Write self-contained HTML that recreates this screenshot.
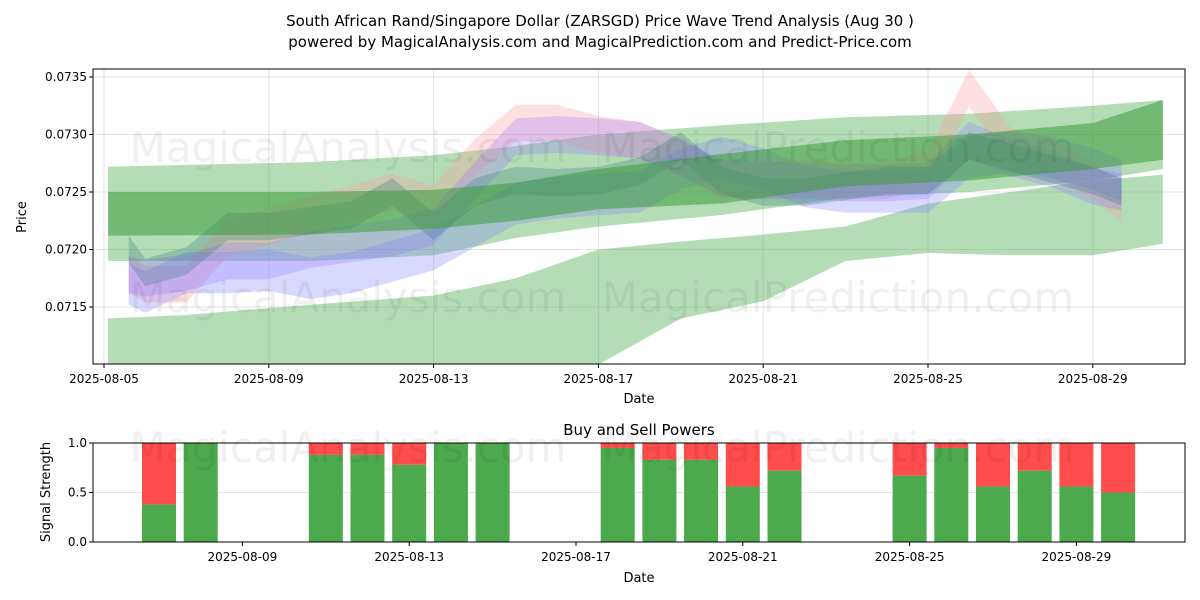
<!DOCTYPE html>
<html><head><meta charset="utf-8"><style>
body{margin:0;background:#fff;}
svg{display:block;font-family:"DejaVu Sans","Liberation Sans",sans-serif;}
</style></head><body>
<svg id="c" width="1200" height="600" viewBox="0 0 1200 600">
<text x="600" y="26" font-size="15" text-anchor="middle">South African Rand/Singapore Dollar (ZARSGD) Price Wave Trend Analysis (Aug 30 )</text>
<text x="600" y="47" font-size="15" text-anchor="middle">powered by MagicalAnalysis.com and MagicalPrediction.com and Predict-Price.com</text>
<g id="topg"></g>
<g id="botg"></g>
</svg>
<script>
// ---- data ----
const topTickLabels=["2025-08-05","2025-08-09","2025-08-13","2025-08-17","2025-08-21","2025-08-25","2025-08-29"];
const topTickDays=[0,4,8,12,16,20,24];
const priceTicks=[0.0715,0.0720,0.0725,0.0730,0.0735];
const bandDays=[0.1,5,8,10,12,15,18,21,24,25.7];
const band1Upper=[0.07272,0.07276,0.07282,0.0729,0.07300,0.07308,0.07315,0.07318,0.07325,0.0733];
const band1Lower=[0.0719,0.0719,0.07195,0.0721,0.0722,0.0723,0.07245,0.0725,0.0726,0.0727];
const band3Upper=[0.0725,0.0725,0.07252,0.07258,0.0727,0.07283,0.07295,0.073,0.0731,0.0733];
const band3Lower=[0.07212,0.07213,0.07218,0.07225,0.07235,0.0724,0.07255,0.0726,0.0727,0.07278];
const band2Days=[0.1,2,5,8,10,12,14,16,18,20,22,24,25.7];
const band2Upper=[0.0714,0.07143,0.07152,0.0716,0.07175,0.072,0.07207,0.07213,0.0722,0.0724,0.0725,0.0726,0.07265];
const band2Lower=[0.0700,0.0699,0.0698,0.0701,0.0705,0.0710,0.0714,0.07155,0.0719,0.07197,0.07195,0.07195,0.07205];
const waveDays=[0.6,1,2,3,4,5,6,7,8,9,10,11,12,13,14,15,16,17,18,19,20,21,22,23,24,24.7];
const waveUpper=[0.07178,0.07175,0.0718,0.0719,0.0719,0.072,0.07205,0.0721,0.0722,0.0726,0.07298,0.073,0.07298,0.07295,0.0728,0.07262,0.0726,0.0726,0.07258,0.07258,0.0726,0.07295,0.0728,0.0727,0.07255,0.0725];
const waveLower=[0.0717,0.07163,0.0718,0.0718,0.07182,0.07175,0.0718,0.0719,0.072,0.0722,0.0724,0.07245,0.07248,0.0725,0.0727,0.0728,0.0727,0.07255,0.0725,0.0725,0.0725,0.0728,0.07285,0.0728,0.0727,0.0726];
const waveMid=[0.072,0.0718,0.0719,0.0722,0.0722,0.07225,0.0723,0.0725,0.0722,0.0725,0.0726,0.07258,0.0726,0.07268,0.0729,0.0726,0.0725,0.0725,0.07255,0.0726,0.0726,0.0729,0.0728,0.0727,0.0726,0.0725];
const waveRed=[0.07178,0.0717,0.0717,0.0721,0.0722,0.0723,0.0724,0.0725,0.0724,0.0728,0.0731,0.0731,0.0730,0.07295,0.0728,0.0726,0.0726,0.07262,0.0726,0.0726,0.0727,0.0734,0.0729,0.0728,0.0726,0.0724];
const barDates=["2025-08-07","2025-08-08","2025-08-11","2025-08-12","2025-08-13","2025-08-14","2025-08-15","2025-08-18","2025-08-19","2025-08-20","2025-08-21","2025-08-22","2025-08-25","2025-08-26","2025-08-27","2025-08-28","2025-08-29","2025-08-30"];
const buyPower=[0.38,1.0,0.88,0.88,0.78,1.0,1.0,0.95,0.83,0.83,0.56,0.72,0.67,0.95,0.56,0.72,0.56,0.5];
const botTickLabels=["2025-08-09","2025-08-13","2025-08-17","2025-08-21","2025-08-25","2025-08-29"];
const botTickDays=[4,8,12,16,20,24];
const signalTicks=[0.0,0.5,1.0];
// ---- scales ----
const NS="http://www.w3.org/2000/svg";
const T={l:93,r:1185,t:69,b:364};
const xT=d=>104+d*41.2;
const yT=p=>77+(0.0735-p)/0.0005*57.5;
const B={l:93,r:1185,t:443,b:542};
const xB=d=>75.6+d*41.7;
const yB=v=>542-v*99;
function mk(parent,tag,attrs,txt){const e=document.createElementNS(NS,tag);for(const k in attrs)e.setAttribute(k,attrs[k]);if(txt!=null)e.textContent=txt;parent.appendChild(e);return e;}
const svgRoot=document.getElementById('c');
const topG=document.getElementById('topg'),botG=document.getElementById('botg');
const defs=mk(svgRoot,'defs',{});
const cp=mk(defs,'clipPath',{id:'cp'});mk(cp,'rect',{x:T.l,y:T.t,width:T.r-T.l,height:T.b-T.t});
// grid
topTickDays.forEach((d,i)=>{const g=mk(topG,'line',{x1:xT(d),x2:xT(d),y1:T.t,y2:T.b,stroke:'#e3e3e3','stroke-width':1});

});
priceTicks.forEach(p=>{const g=mk(topG,'line',{x1:T.l,x2:T.r,y1:yT(p),y2:yT(p),stroke:'#e3e3e3','stroke-width':1});

});
const plot=mk(topG,'g',{'clip-path':'url(#cp)'});
function band(days,up,lo,color,op,name){let pts=days.map((d,i)=>xT(d)+','+yT(up[i]));for(let i=days.length-1;i>=0;i--)pts.push(xT(days[i])+','+yT(lo[i]));const p=mk(plot,'polygon',{points:pts.join(' '),fill:color,'fill-opacity':op});

}
function wave(days,c,hw,color,op,name){band(days,c.map(v=>v+hw),c.map(v=>v-hw),color,op,name);}
band(band2Days,band2Upper,band2Lower,'#4caf50',0.42,'lower-trend-band');
band(bandDays,band1Upper,band1Lower,'#4caf50',0.42,'upper-trend-band');
wave(waveDays,waveRed,0.00016,'#ff9999',0.3,'red-wave-band');
wave(waveDays,waveUpper,0.00016,'#9b7bff',0.3,'purple-wave-band');
wave(waveDays,waveLower,0.00018,'#8080ff',0.3,'blue-wave-band');
wave(waveDays,waveMid,0.00012,'#3a7a7a',0.3,'teal-wave-band');
band(bandDays,band3Upper,band3Lower,'#3c9a3c',0.55,'core-trend-band');
// watermarks
[["MagicalAnalysis.com",348,162],["MagicalPrediction.com",838,162],["MagicalAnalysis.com",348,312],["MagicalPrediction.com",838,312],["MagicalAnalysis.com",348,462],["MagicalPrediction.com",838,462]].forEach(w=>{const t=mk(svgRoot,'text',{x:w[1],y:w[2],'font-size':42,fill:'#000','fill-opacity':0.06,'text-anchor':'middle'},w[0]);

});
// axes
mk(topG,'rect',{x:T.l,y:T.t,width:T.r-T.l,height:T.b-T.t,fill:'none',stroke:'#000','stroke-width':1});
topTickDays.forEach((d,i)=>{mk(topG,'line',{x1:xT(d),x2:xT(d),y1:T.b,y2:T.b+4,stroke:'#000'});const t=mk(topG,'text',{x:xT(d),y:T.b+19,'font-size':12,'text-anchor':'middle'},topTickLabels[i]);

});
priceTicks.forEach(p=>{mk(topG,'line',{x1:T.l-4,x2:T.l,y1:yT(p),y2:yT(p),stroke:'#000'});const t=mk(topG,'text',{x:T.l-6,y:yT(p)+4,'font-size':12,'text-anchor':'end'},p.toFixed(4));

});
mk(topG,'text',{x:639,y:403,'font-size':13,'text-anchor':'middle',},'Date');
mk(topG,'text',{x:26,y:217,'font-size':13,'text-anchor':'middle',transform:'rotate(-90 26 217)',},'Price');
// bottom
mk(botG,'text',{x:639,y:435,'font-size':15,'text-anchor':'middle',},'Buy and Sell Powers');
signalTicks.forEach(v=>{const g=mk(botG,'line',{x1:B.l,x2:B.r,y1:yB(v),y2:yB(v),stroke:'#e3e3e3'});

});
barDates.forEach((ds,i)=>{const d=(new Date(ds)-new Date("2025-08-05"))/864e5;const x=xB(d)-17;
const r=mk(botG,'rect',{x:x,y:yB(1),width:34,height:yB(buyPower[i])-yB(1),fill:'#ff4c4c'});


const g=mk(botG,'rect',{x:x,y:yB(buyPower[i]),width:34,height:yB(0)-yB(buyPower[i]),fill:'#4caa4c'});

});
mk(botG,'rect',{x:B.l,y:B.t,width:B.r-B.l,height:B.b-B.t,fill:'none',stroke:'#000'});
botTickDays.forEach((d,i)=>{mk(botG,'line',{x1:xB(d),x2:xB(d),y1:B.b,y2:B.b+4,stroke:'#000'});const t=mk(botG,'text',{x:xB(d),y:B.b+19,'font-size':12,'text-anchor':'middle'},botTickLabels[i]);

});
signalTicks.forEach(v=>{mk(botG,'line',{x1:B.l-4,x2:B.l,y1:yB(v),y2:yB(v),stroke:'#000'});const t=mk(botG,'text',{x:B.l-6,y:yB(v)+4,'font-size':12,'text-anchor':'end'},v.toFixed(1));

});
mk(botG,'text',{x:639,y:582,'font-size':13,'text-anchor':'middle',},'Date');
mk(botG,'text',{x:50,y:492,'font-size':13,'text-anchor':'middle',transform:'rotate(-90 50 492)',},'Signal Strength');
</script>
</body></html>
